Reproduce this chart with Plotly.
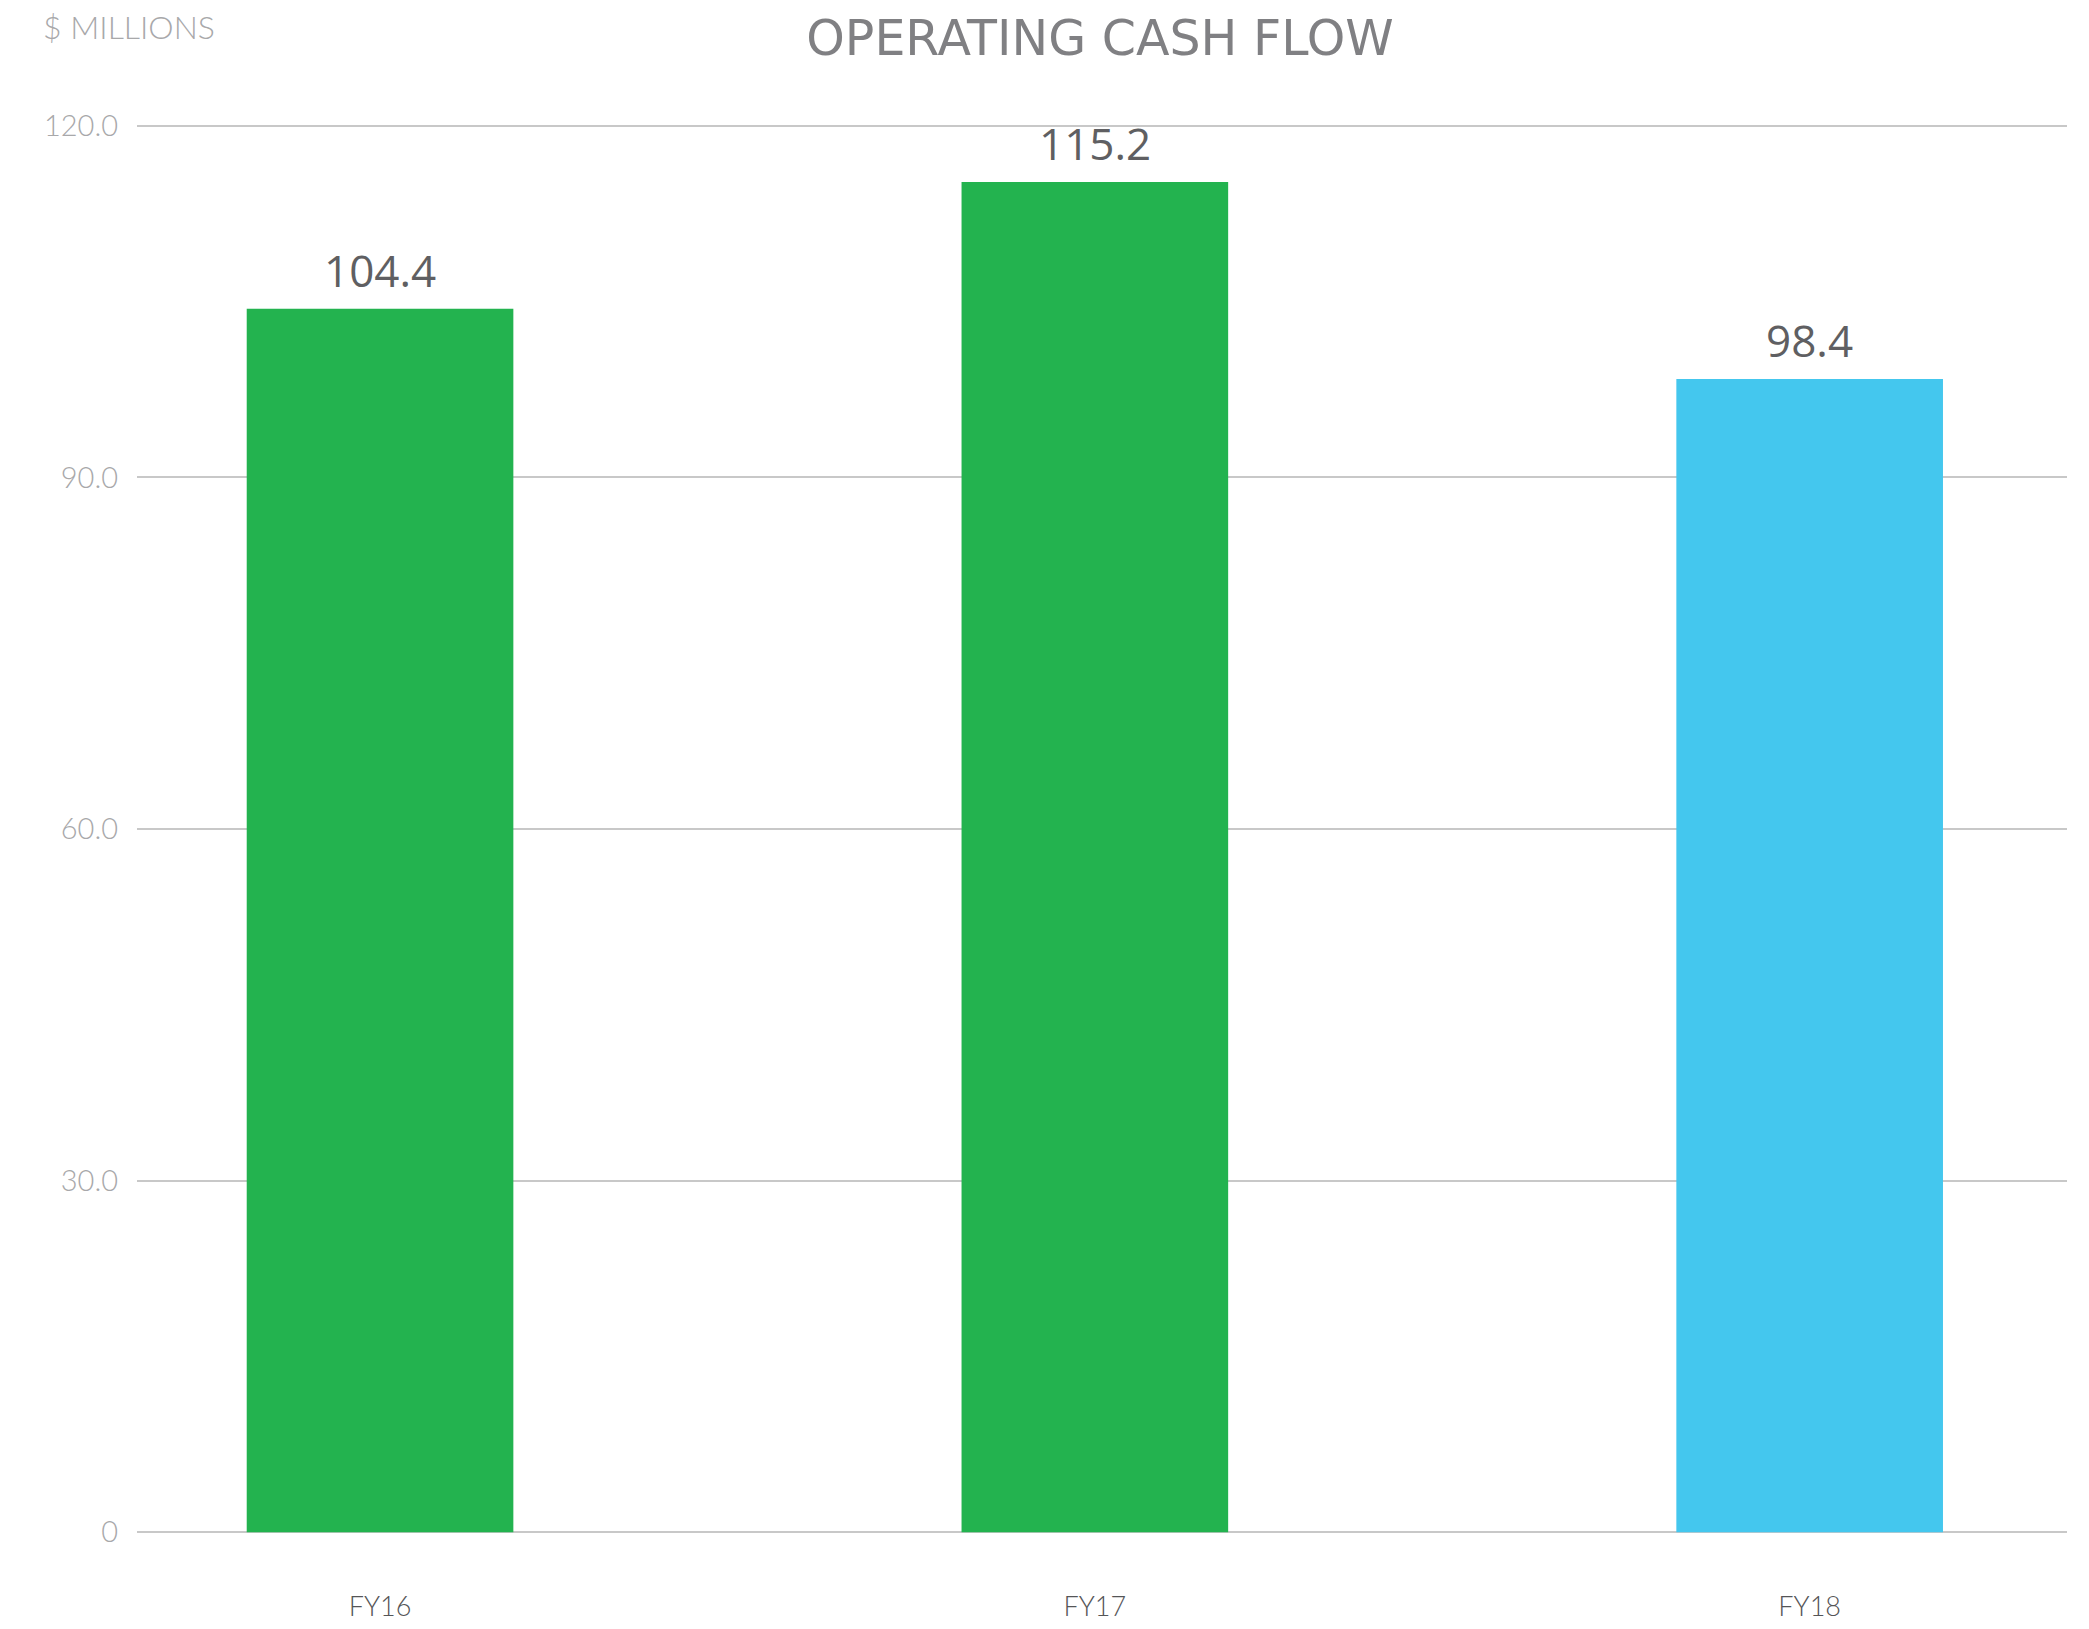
import plotly.graph_objects as go

years = ['FY16', 'FY17', 'FY18']
cash_flow = [104.4, 115.2, 98.4]
bar_colors = ['#23b34f', '#23b34f', '#44c7ee']
y_ticks = [0, 30, 60, 90, 120]
y_tick_text = ['0', '30.0', '60.0', '90.0', '120.0']

# page body has an 8px default margin, so the figure is a bit smaller
W, H = 2073, 1613
L, R, T, B = 129, 14, 112, 83

fig = go.Figure(
    go.Bar(
        x = list(range(len(years))),
        y = cash_flow,
        width = 0.373,
        marker = dict(color = bar_colors, line = dict(width = 0)),
        hoverinfo = 'skip'
    )
)

# value labels sit a little higher above the bars than plotly's outside text
for i, v in enumerate(cash_flow):
    fig.add_annotation(
        x = i, y = v,
        text = f'{v:.1f}',
        showarrow = False,
        yanchor = 'bottom',
        yshift = 7,
        font = dict(family = 'Open Sans', size = 44, color = '#5f5f62')
    )

fig.update_layout(
    width = W,
    height = H,
    margin = dict(l = L, r = R, t = T, b = B, pad = 0, autoexpand = False),
    plot_bgcolor = 'white',
    paper_bgcolor = 'white',
    showlegend = False,
    font = dict(family = 'Lato'),
    title = dict(
        text = 'OPERATING CASH FLOW',
        x = 1092 / W,
        xanchor = 'center',
        y = 1 - 30 / H,
        yanchor = 'middle',
        font = dict(family = 'DejaVu Sans', size = 49, color = '#808083')
    ),
    xaxis = dict(
        range = [-0.34, 2.36],
        tickvals = list(range(len(years))),
        ticktext = years,
        showgrid = False,
        zeroline = False,
        showline = False,
        ticks = '',
        automargin = False,
        ticklabelstandoff = 50,
        tickfont = dict(family = 'Lato', size = 27, weight = 300, color = '#555557')
    ),
    yaxis = dict(
        range = [-0.5, 120.5],
        tickvals = y_ticks,
        ticktext = y_tick_text,
        showgrid = True,
        gridcolor = '#c8c8c8',
        gridwidth = 2,
        zeroline = False,
        showline = False,
        ticks = '',
        automargin = False,
        ticklabelstandoff = 18,
        tickfont = dict(family = 'Lato', size = 29, weight = 300, color = '#a8a8aa')
    )
)

fig.add_annotation(
    text = '$ MILLIONS',
    xref = 'paper', yref = 'paper',
    x = (33 - L) / (W - L - R),
    y = 1 + (T - 19) / (H - T - B),
    xanchor = 'left', yanchor = 'middle',
    showarrow = False,
    font = dict(family = 'Lato', size = 32, weight = 300, color = '#a8a8aa')
)

fig.write_html('out.html')
